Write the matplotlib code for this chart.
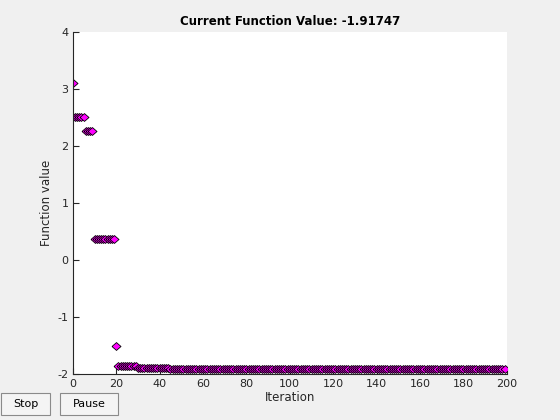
#plot.py

#COMMENT: Imports.

import matplotlib as mpl;
import matplotlib.pyplot as plt;
from matplotlib.patches import Rectangle;

#COMMENT: Data: run lengths of the function value per iteration.

run_start = [0, 1, 6, 10, 20, 21, 30, 39, 45];
run_end = [0, 5, 9, 19, 20, 29, 38, 44, 199];
run_value = [3.09, 2.51, 2.25, 0.37, -1.52, -1.86, -1.89, -1.905, -1.91747];

x_ticks = [0, 20, 40, 60, 80, 100, 120, 140, 160, 180, 200];
y_ticks = [-2, -1, 0, 1, 2, 3, 4];

title_text = "Current Function Value: -1.91747";

#COMMENT: Expand the runs into per-iteration lists.

iters, fvals = [], [];
for s, e, v in zip(run_start, run_end, run_value):
    for i in range(s, e + 1):
        iters.append(i);
        fvals.append(v);

#COMMENT: Figure set up like a MATLAB figure window.

mpl.rc('font', **{ 'family' : 'DejaVu Sans', 'size' : 8 });
mpl.rc('axes', **{ 'unicode_minus' : False });

fig = plt.figure(figsize = (5.6, 4.2), dpi = 100, facecolor = '#f0f0f0');
ax = fig.add_axes([0.13, 0.11, 0.775, 0.815]);

#COMMENT: A slightly wide diamond, like the MATLAB 'd' marker.

diamond = [(-1.15, 0), (0, 1), (1.15, 0), (0, -1), (-1.15, 0)];

ax.plot(iters, fvals, linestyle = 'none', marker = diamond, markersize = 6.5,
        markerfacecolor = '#ff00ff', markeredgecolor = '#000000', markeredgewidth = 0.6);

ax.set_xlim(0, 200);
ax.set_ylim(-2, 4);
ax.set_xticks(x_ticks);
ax.set_yticks(y_ticks);

ax.spines['top'].set_visible(False);
ax.spines['right'].set_visible(False);
for spine in ['left', 'bottom']:
    ax.spines[spine].set_linewidth(0.8);
    ax.spines[spine].set_color('#262626');

ax.tick_params(direction = 'in', length = 4, width = 0.8, colors = '#262626', labelsize = 8);
ax.tick_params(axis = 'y', pad = 3);

ax.set_xlabel("Iteration", fontsize = 8.5, color = '#262626', labelpad = 2);
ax.set_ylabel("Function value", fontsize = 8.5, color = '#262626');
ax.yaxis.set_label_coords(-0.045, 0.5);
ax.set_title(title_text, fontsize = 8.5, fontweight = 'bold', color = '#000000', pad = 5);

#COMMENT: Stop and Pause buttons.

for (bx, bw, label) in [(1, 49, "Stop"), (60, 58, "Pause")]:
    x0 = bx / 560.0;
    y0 = (420 - 415) / 420.0;
    w = bw / 560.0;
    h = 22 / 420.0;
    fig.patches.append(Rectangle((x0, y0), w, h, transform = fig.transFigure,
                                 facecolor = '#f4f4f4', edgecolor = '#8a8a8a', linewidth = 0.8));
    fig.text(x0 + w / 2, y0 + h / 2, label, ha = 'center', va = 'center', fontsize = 8, color = '#000000');

#COMMENT: Save.

plt.savefig("out.png", dpi = 100, facecolor = fig.get_facecolor());
plt.close();
